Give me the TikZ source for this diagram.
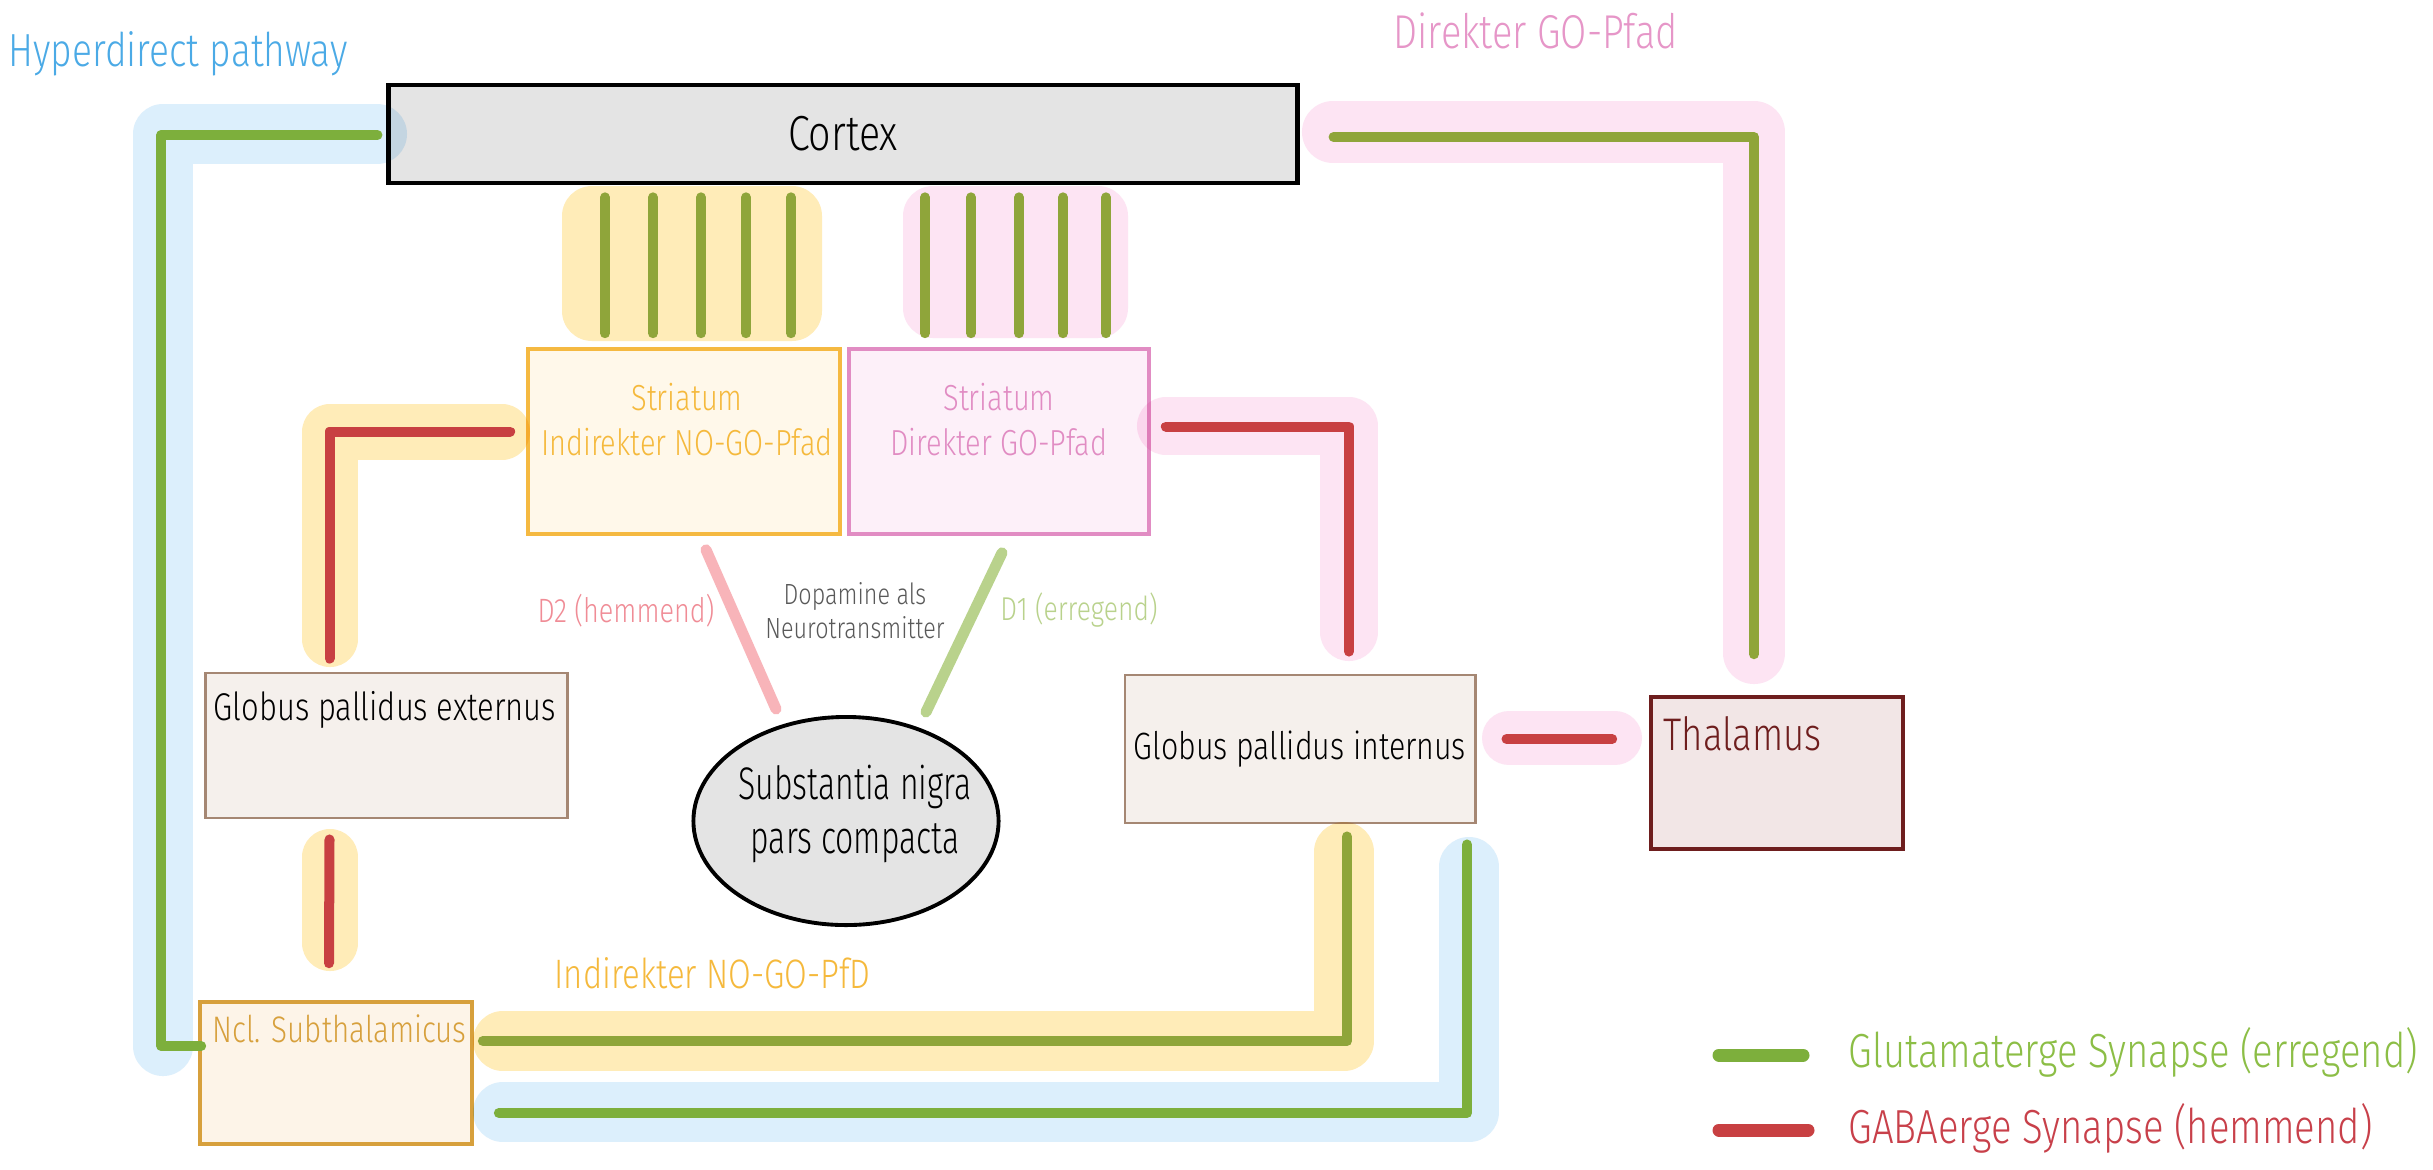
\documentclass[tikz,border=0pt]{standalone}
\usepackage{fontspec}
\setmainfont{Fira Sans Light}[FakeStretch=0.8]
\newfontfamily\condfont{Fira Sans Light}[FakeStretch=0.7]
\usetikzlibrary{calc,shapes.geometric}
\definecolor{glucol}{RGB}{125,175,60}
\definecolor{gluocol}{RGB}{143,165,58}
\definecolor{gabacol}{RGB}{200,64,66}
\definecolor{hlb}{RGB}{220,239,252}
\definecolor{hly}{RGB}{255,236,184}
\definecolor{hlp}{RGB}{253,228,243}
\definecolor{hdcol}{RGB}{75,170,230}
\definecolor{gocol}{RGB}{230,150,200}
\definecolor{nogocol}{RGB}{245,185,60}
\definecolor{strIfill}{RGB}{255,248,234}
\definecolor{strIdraw}{RGB}{245,185,65}
\definecolor{strDfill}{RGB}{253,240,249}
\definecolor{strDdraw}{RGB}{225,140,195}
\definecolor{gpfill}{RGB}{245,240,236}
\definecolor{gpdraw}{RGB}{165,135,115}
\definecolor{thfill}{RGB}{242,230,230}
\definecolor{thdraw}{RGB}{110,30,30}
\definecolor{stnfill}{RGB}{253,244,232}
\definecolor{stndraw}{RGB}{215,160,60}
\definecolor{grayfill}{RGB}{228,228,228}
\definecolor{dtwo}{RGB}{248,180,185}
\definecolor{dtwotext}{RGB}{240,140,150}
\definecolor{done}{RGB}{185,210,140}
\definecolor{legg}{RGB}{140,190,70}
\definecolor{legr}{RGB}{200,64,74}
\newcommand{\fsz}[2]{\fontsize{#1}{#2}\selectfont}
\begin{document}
\begin{tikzpicture}[x=0.01cm,y=-0.01cm,
  box/.style={rectangle, inner sep=0pt, line width=0.8pt},
  glu/.style={draw=glucol, line width=0.1cm, line cap=round, line join=round},
  gluo/.style={draw=gluocol, line width=0.1cm, line cap=round, line join=round},
  gaba/.style={draw=gabacol, line width=0.1cm, line cap=round, line join=round},
  hlite/.style={line width=0.6cm, line cap=round, line join=round},
  lbl/.style={inner sep=0pt}]
\useasboundingbox (0,0) rectangle (2433,1169);
\fill[white] (0,0) rectangle (2433,1169);

% boxes
\node[box, fill=grayfill, draw=black, line width=1.3pt, minimum width=9.08cm, minimum height=0.98cm, font=\fsz{14}{17}] (cortex) at (843,134) {Cortex};
\node[box, fill=strIfill, draw=strIdraw, line width=1pt, minimum width=3.12cm, minimum height=1.85cm] (strI) at (684,441.5) {};
\node[box, fill=strDfill, draw=strDdraw, line width=1pt, minimum width=3.00cm, minimum height=1.85cm] (strD) at (999,441.5) {};
\node[box, fill=gpfill, draw=gpdraw, minimum width=3.61cm, minimum height=1.45cm] (gpe) at (386.5,745.5) {};
\node[box, fill=gpfill, draw=gpdraw, minimum width=3.50cm, minimum height=1.48cm, font=\fsz{10.8}{13}] (gpi) at (1300,749) {Globus pallidus internus};
\node[box, fill=thfill, draw=thdraw, line width=1pt, minimum width=2.52cm, minimum height=1.52cm] (thal) at (1777,773) {};
\node[box, fill=stnfill, draw=stndraw, line width=1pt, minimum width=2.72cm, minimum height=1.42cm] (stn) at (336,1073) {};
\node[ellipse, fill=grayfill, draw=black, line width=1.1pt, minimum width=3.05cm, minimum height=2.08cm, inner sep=0pt] (sn) at (846,821) {};
\node[lbl, align=center, font=\condfont\fsz{13}{15.2}] (snlbl) at (855,814) {Substantia nigra\\pars compacta};

% highlights
\begin{scope}[blend mode=multiply]
\fill[hly, rounded corners=0.3cm] (562,186) rectangle (822,341);
\fill[hlp, rounded corners=0.3cm] (903,186) rectangle (1128,338);
\draw[hlite, draw=hlb] (377,134) -| (163,1046);
\draw[hlite, draw=hlb] (503,1112) -| (1469,867);
\draw[hlite, draw=hly] (503,1041) -| (1344,852);
\draw[hlite, draw=hly, line width=0.56cm] (330,857) -- (330,943);
\draw[hlite, draw=hly, line width=0.56cm] (502,432) -| (330,639);
\draw[hlite, draw=hlp, line width=0.58cm] (1166,426) -| (1349,632);
\draw[hlite, draw=hlp, line width=0.62cm] (1333,132) -| (1754,653);
\draw[hlite, draw=hlp, line width=0.54cm] (1509,738) -- (1615,738);
\end{scope}

% striatum input lines
\foreach \x in {605,653,701,746,791}{
  \draw[gluo] ($(cortex.south -| \x,0)+(0,12)$) -- ($(strI.north -| \x,0)+(0,-14)$);}
\foreach \x in {925,971,1019,1063,1106}{
  \draw[gluo] ($(cortex.south -| \x,0)+(0,12)$) -- ($(strD.north -| \x,0)+(0,-14)$);}

% connectors
\draw[glu] ($(cortex.west)+(-9,1)$) -| ($(stn.west)+(-37,-27)$) -- ($(stn.west)+(3,-27)$);
\draw[glu] ($(stn.east)+(25,40)$) -| ($(gpi.south)+(167,20)$);
\draw[gluo] ($(stn.east)+(9,-32)$) -| ($(gpi.south)+(47,12)$);
\draw[gaba] ($(gpe.south)+(-57,20)$) -- ($(stn.north)+(-7,-37)$);
\draw[gaba] ($(strI.west)+(-16,-10)$) -| ($(gpe.north)+(-57,-13)$);
\draw[gaba] ($(strD.east)+(15,-15)$) -| ($(gpi.north)+(49,-22)$);
\draw[gluo] ($(cortex.east)+(34,3)$) -| ($(thal.north)+(-23,-41)$);
\draw[gaba] ($(gpi.east)+(30,-10)$) -- ($(thal.west)+(-37,-34)$);
\draw[draw=dtwo, line width=0.11cm, line cap=round] ($(strI.south)+(22,14)$) -- ($(sn.north)+(-70,-6)$);
\draw[draw=done, line width=0.11cm, line cap=round] ($(strD.south)+(3,17)$) -- ($(sn.north)+(80,-3)$);

% labels
\node[lbl, anchor=west, text=hdcol, font=\fsz{13.2}{16}] (hdlbl) at (8,54) {Hyperdirect pathway};
\node[lbl, anchor=west, text=gocol, font=\fsz{13.5}{16}] (golbl) at (1393,31) {Direkter GO-Pfad};
\node[lbl, text=nogocol, font=\fsz{10.3}{12}] (strIa) at (687,397) {Striatum};
\node[lbl, text=nogocol, font=\fsz{10.3}{12}] (strIb) at (687,442) {Indirekter NO-GO-Pfad};
\node[lbl, text=strDdraw, font=\fsz{10.3}{12}] (strDa) at (999,397) {Striatum};
\node[lbl, text=strDdraw, font=\fsz{10.3}{12}] (strDb) at (999,442) {Direkter GO-Pfad};
\node[lbl, anchor=base, font=\fsz{11}{13}] (gpelbl) at (385,720) {Globus pallidus externus};
\node[lbl, anchor=base west, text=stndraw, font=\fsz{10.5}{12}] (stnlbl) at (212,1042) {Ncl. Subthalamicus};
\node[lbl, anchor=base west, text=thdraw, font=\fsz{13}{15}] (thallbl) at (1663,750) {Thalamus};
\node[lbl, anchor=west, text=nogocol, font=\fsz{11.7}{14}] (nogolbl) at (554,973) {Indirekter NO-GO-PfD};
\node[lbl, text=dtwotext, font=\fsz{9.6}{11}] (dtwolbl) at (626,611) {D2 (hemmend)};
\node[lbl, text=black!65, font=\fsz{8.3}{9.7}, align=center] (dalbl) at (855,611) {Dopamine als\\Neurotransmitter};
\node[lbl, text=done, font=\fsz{9.4}{11}] (donelbl) at (1079,610) {D1 (erregend)};

% legend
\coordinate (lg1a) at (1719,1055); \coordinate (lg1b) at (1803,1055);
\coordinate (lg2a) at (1719,1130); \coordinate (lg2b) at (1808,1130);
\draw[glu, line width=0.13cm] (lg1a) -- (lg1b);
\draw[gaba, line width=0.13cm] (lg2a) -- (lg2b);
\node[lbl, anchor=west, text=legg, font=\fsz{13.6}{16}] (leg1) at (1848,1052) {Glutamaterge Synapse (erregend)};
\node[lbl, anchor=west, text=legr, font=\fsz{13.6}{16}] (leg2) at (1848,1128) {GABAerge Synapse (hemmend)};
\end{tikzpicture}
\end{document}
